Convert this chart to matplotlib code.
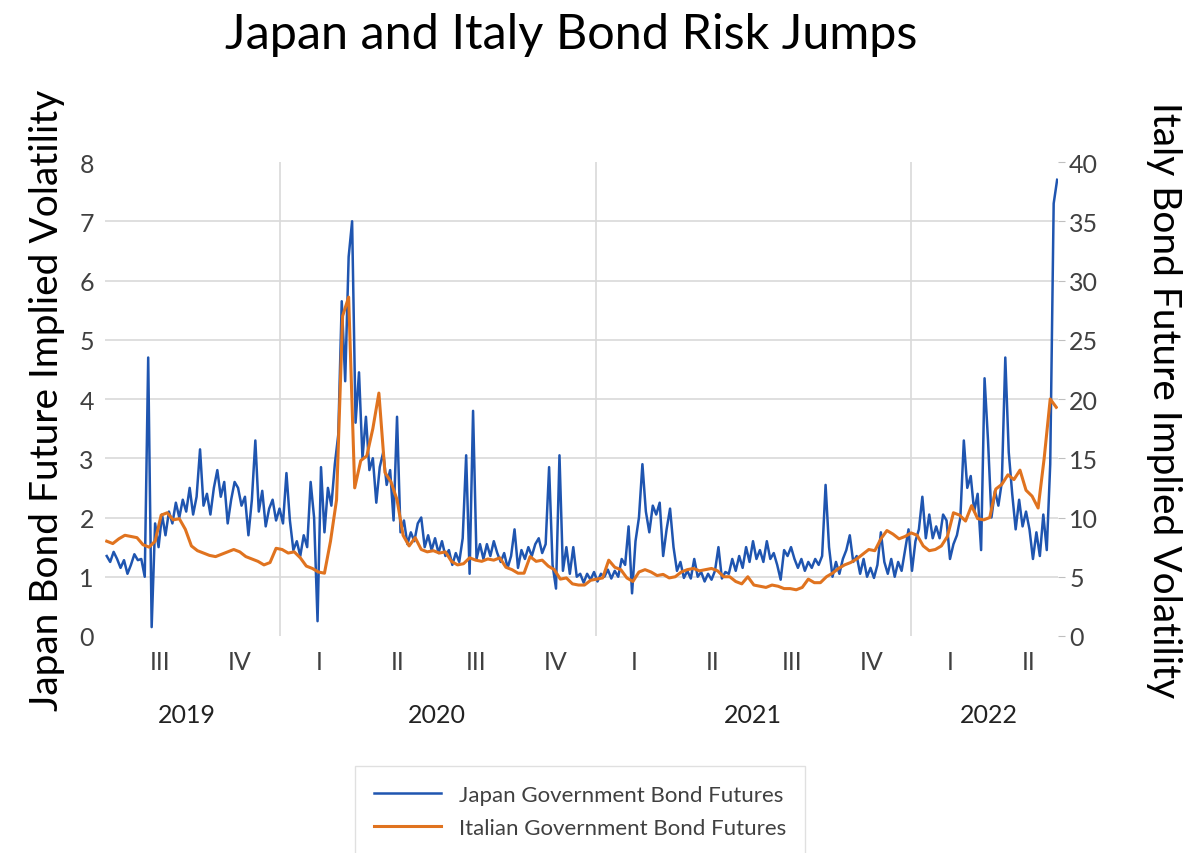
import matplotlib.pyplot as plt
import matplotlib.transforms as mtransforms
import pandas as pd

plt.rcParams['font.family'] = ['Lato', 'DejaVu Sans']

# Japan bond future implied vol, every 4 days from mid-June 2019
japan_vol = [
    1.35, 1.25, 1.42, 1.3, 1.15, 1.28, 1.05, 1.2, 1.38, 1.28,
    1.3, 1.0, 4.7, 0.15, 1.9, 1.5, 2.05, 1.7, 2.1, 1.9,
    2.25, 2.0, 2.3, 2.1, 2.5, 2.05, 2.35, 3.15, 2.2, 2.4,
    2.05, 2.5, 2.8, 2.35, 2.6, 1.9, 2.3, 2.6, 2.5, 2.2,
    2.35, 1.7, 2.3, 3.3, 2.1, 2.45, 1.85, 2.15, 2.3, 1.95,
    2.15, 1.9, 2.75, 1.95, 1.45, 1.6, 1.35, 1.7, 1.5, 2.6,
    2.0, 0.25, 2.85, 1.75, 2.5, 2.2, 2.9, 3.4, 5.65, 4.3,
    6.4, 7.0, 3.6, 4.45, 3.0, 3.7, 2.8, 3.0, 2.25, 2.85,
    3.1, 2.55, 2.8, 1.95, 3.7, 1.75, 1.95, 1.55, 1.75, 1.6,
    1.9, 2.0, 1.5, 1.7, 1.45, 1.65, 1.4, 1.6, 1.35, 1.45,
    1.2, 1.4, 1.25, 1.65, 3.05, 1.05, 3.8, 1.3, 1.55, 1.3,
    1.55, 1.35, 1.6, 1.4, 1.25, 1.4, 1.15, 1.35, 1.8, 1.15,
    1.45, 1.3, 1.5, 1.35, 1.55, 1.65, 1.4, 1.55, 2.85, 1.2,
    0.8, 3.05, 1.1, 1.5, 1.05, 1.5, 1.0, 1.05, 0.9, 1.05,
    0.95, 1.08, 0.92, 1.05, 1.0, 1.12, 0.97, 1.1, 1.0, 1.3,
    1.2, 1.85, 0.72, 1.6, 2.0, 2.9, 2.1, 1.75, 2.2, 2.05,
    2.25, 1.35, 1.8, 2.15, 1.5, 1.1, 1.25, 0.98, 1.1, 0.97,
    1.3, 1.0, 1.08, 0.92, 1.05, 0.95, 1.1, 1.5, 0.97, 1.08,
    1.05, 1.3, 1.1, 1.35, 1.15, 1.5, 1.25, 1.6, 1.3, 1.45,
    1.25, 1.6, 1.3, 1.4, 1.2, 0.95, 1.45, 1.35, 1.5, 1.3,
    1.15, 1.3, 1.1, 1.25, 1.15, 1.3, 1.2, 1.35, 2.55, 1.5,
    1.0, 1.25, 1.05, 1.3, 1.45, 1.7, 1.25, 1.35, 1.05, 1.3,
    1.0, 1.15, 0.98, 1.2, 1.75, 1.25, 1.05, 1.3, 1.0, 1.25,
    1.1, 1.45, 1.8, 1.1, 1.6, 1.8, 2.35, 1.65, 2.05, 1.65,
    1.85, 1.65, 2.05, 1.95, 1.3, 1.55, 1.7, 2.0, 3.3, 2.5,
    2.7, 2.1, 2.4, 1.45, 4.35, 3.3, 2.0, 2.45, 2.2, 2.6,
    4.7, 3.1, 2.4, 1.8, 2.3, 1.85, 2.1, 1.8, 1.3, 1.75,
    1.35, 2.05, 1.45, 2.9, 7.3, 7.7,
]

# Italy bond future implied vol, weekly from mid-June 2019
italy_vol = [
    8.0, 7.8, 8.2, 8.5, 8.4, 8.3, 7.7, 7.5, 8.0, 10.2,
    10.4, 9.8, 9.9, 9.0, 7.6, 7.2, 7.0, 6.8, 6.7, 6.9,
    7.1, 7.3, 7.1, 6.7, 6.5, 6.3, 6.0, 6.2, 7.4, 7.3,
    7.0, 7.1, 6.6, 5.9, 5.7, 5.4, 5.3, 8.0, 11.5, 27.0,
    28.6, 12.5, 14.8, 15.2, 17.5, 20.5, 13.8, 13.0, 11.5, 8.5,
    7.6, 8.3, 7.3, 7.1, 7.2, 7.0, 7.1, 6.3, 6.0, 6.1,
    6.6, 6.4, 6.3, 6.5, 6.4, 6.6, 5.8, 5.6, 5.3, 5.3,
    6.7, 6.3, 6.4, 5.9, 5.6, 4.8, 4.9, 4.4, 4.3, 4.3,
    4.7, 4.8, 4.9, 6.4, 5.8, 5.6, 4.9, 4.6, 5.4, 5.6,
    5.4, 5.1, 5.2, 4.9, 5.0, 5.4, 5.6, 5.7, 5.5, 5.6,
    5.7, 5.5, 5.0, 5.0, 4.6, 4.4, 5.0, 4.3, 4.2, 4.1,
    4.3, 4.2, 4.0, 4.0, 3.9, 4.1, 4.8, 4.5, 4.5, 5.0,
    5.3, 5.7, 6.0, 6.2, 6.5, 6.9, 7.3, 7.2, 8.2, 8.9,
    8.6, 8.2, 8.4, 8.7, 8.5, 7.6, 7.2, 7.3, 7.6, 8.4,
    10.4, 10.2, 9.7, 11.0, 9.9, 9.8, 10.0, 12.4, 12.8, 13.6,
    13.2, 14.0, 12.3, 11.8, 10.8, 15.0, 20.0, 19.3,
]

start = "2019-06-15"
japan_dates = pd.date_range(start, periods=len(japan_vol), freq="4D")
italy_dates = pd.date_range(start, periods=len(italy_vol), freq="7D")

quarter_names = ["I", "II", "III", "IV"]
quarters = pd.period_range("2019Q3", "2022Q2", freq="Q")
quarter_mid = [q.start_time + (q.end_time - q.start_time) / 2 for q in quarters]
quarter_labels = [quarter_names[q.quarter - 1] for q in quarters]

year_labels = ["2019", "2020", "2021", "2022"]
year_mid = pd.to_datetime(["2019-09-16", "2020-07-01", "2021-07-02", "2022-04-01"])
year_edges = pd.to_datetime(["2020-01-01", "2021-01-01", "2022-01-01"])

blue = "#1F55B0"
orange = "#E0731F"
grid_col = "#D9D9D9"
text_col = "#404040"

fig = plt.figure(figsize=(12, 8.54), dpi=100)
ax = fig.add_axes([105 / 1200, 1 - 637 / 854, 953 / 1200, 474 / 854])
ax2 = ax.twinx()

ax.plot(japan_dates, japan_vol, color=blue, lw=1.8, label="Japan Government Bond Futures")
ax2.plot(italy_dates, italy_vol, color=orange, lw=2.2, label="Italian Government Bond Futures")

ax.set_xlim(pd.Timestamp("2019-06-13"), pd.Timestamp("2022-06-20"))
ax.set_ylim(0, 8)
ax2.set_ylim(0, 40)

for v in range(1, 8):
    ax.axhline(v, color=grid_col, lw=1.2, zorder=0)
for d in year_edges:
    ax.axvline(d, color=grid_col, lw=1.2, zorder=0)

for a in (ax, ax2):
    for s in a.spines.values():
        s.set_visible(False)

ax.set_yticks(range(0, 9))
ax.tick_params(axis="y", length=0, labelsize=18, labelcolor=text_col, pad=8)
ax2.set_yticks(range(0, 41, 5))
ax2.tick_params(axis="y", length=5, color="#BFBFBF", labelsize=18, labelcolor=text_col, pad=3)

ax.set_xticks(quarter_mid, quarter_labels)
ax.tick_params(axis="x", length=0, labelsize=18, labelcolor=text_col, pad=10)

trans = mtransforms.blended_transform_factory(ax.transData, ax.transAxes)
for d, lab in zip(year_mid, year_labels):
    ax.text(d, -0.165, lab, transform=trans, ha="center", va="center", fontsize=18, color="#222222")

ax.set_ylabel("Japan Bond Future Implied Volatility", fontsize=28, labelpad=10)
ax2.set_ylabel("Italy Bond Future Implied Volatility", fontsize=28, rotation=270, labelpad=60)

fig.text(571 / 1200, 1 - 35 / 854, "Japan and Italy Bond Risk Jumps", ha="center", va="center", fontsize=35)

h1, l1 = ax.get_legend_handles_labels()
h2, l2 = ax2.get_legend_handles_labels()
leg = fig.legend(h1 + h2, l1 + l2, loc="upper center", bbox_to_anchor=(580 / 1200, 1 - 767 / 854),
                 fontsize=16, frameon=True, fancybox=False, edgecolor="#D9D9D9",
                 handlelength=3.0, borderpad=0.85, labelspacing=0.6, handletextpad=0.8,
                 borderaxespad=0)
leg.get_frame().set_linewidth(1.0)
for t in leg.get_texts():
    t.set_color(text_col)

fig.savefig("out.png", dpi=100)
